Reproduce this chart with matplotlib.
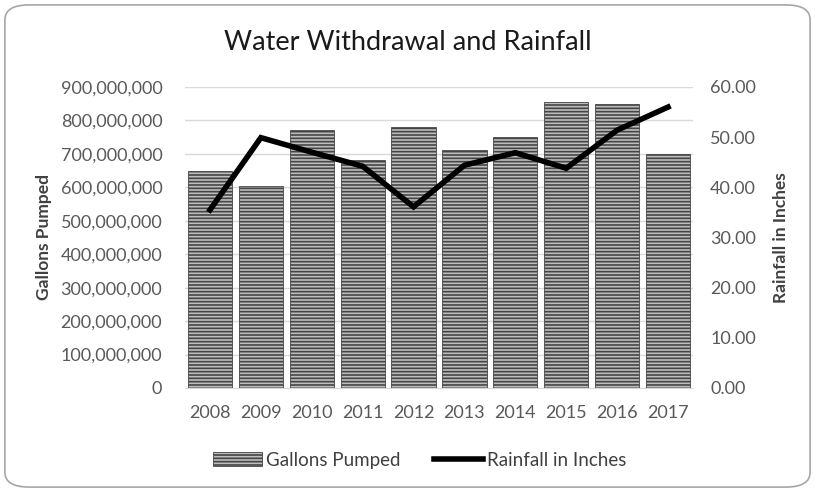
import numpy as np
import matplotlib.pyplot as plt
from matplotlib.patches import FancyBboxPatch
from matplotlib.ticker import FuncFormatter

years = ["2008", "2009", "2010", "2011", "2012", "2013", "2014", "2015", "2016", "2017"]
gallons = [650e6, 605e6, 770e6, 682e6, 780e6, 712e6, 750e6, 855e6, 850e6, 700e6]
rainfall = [35.5, 49.9, 47.0, 44.2, 36.1, 44.4, 46.9, 43.8, 51.4, 56.0]

plt.rcParams['font.family'] = ['Lato', 'DejaVu Sans']
plt.rcParams['hatch.linewidth'] = 1.2
plt.rcParams['hatch.color'] = '#4a4a4a'

fig = plt.figure(figsize=(8.15, 4.92), dpi=100)

# rounded grey frame around the chart
frame = FancyBboxPatch((0.006, 0.01), 0.988, 0.98,
                       boxstyle="round,pad=0,rounding_size=0.03",
                       transform=fig.transFigure, facecolor='white',
                       edgecolor='#a6a6a6', linewidth=1.2, zorder=-10)
fig.patches.append(frame)

ax = fig.add_axes([0.2264, 0.2114, 0.6245, 0.6118])
ax.set_facecolor('none')
x = np.arange(len(years))

bars = ax.bar(x, gallons, width=0.87, facecolor='#bdbdbd', edgecolor='#454545',
              hatch='-----', linewidth=0.6, label='Gallons Pumped', zorder=2)

ax.set_xlim(-0.5, len(years) - 0.5)
ax.set_ylim(0, 900e6)
ax.set_yticks(np.arange(0, 900e6 + 1, 100e6))
ax.yaxis.set_major_formatter(FuncFormatter(lambda v, p: f"{v:,.0f}"))
ax.set_xticks(x)
ax.set_xticklabels(years)
ax.grid(axis='y', color='#d9d9d9', linewidth=1, zorder=0)
ax.set_axisbelow(True)
for s in ax.spines.values():
    s.set_visible(False)
ax.spines['bottom'].set_visible(True)
ax.spines['bottom'].set_color('#d9d9d9')
ax.tick_params(axis='y', length=0, labelsize=13, colors='#595959', pad=16)
ax.tick_params(axis='x', length=0, labelsize=13, colors='#595959', pad=12)
ax.set_ylabel('Gallons Pumped', fontsize=12.5, fontweight='bold', color='#404040', labelpad=6)

ax2 = ax.twinx()
line, = ax2.plot(x, rainfall, color='black', linewidth=4, solid_joinstyle='miter',
                 label='Rainfall in Inches', zorder=3)
ax2.set_ylim(0, 60)
ax2.set_yticks(np.arange(0, 61, 10))
ax2.yaxis.set_major_formatter(FuncFormatter(lambda v, p: f"{v:.2f}"))
for s in ax2.spines.values():
    s.set_visible(False)
ax2.tick_params(length=0, labelsize=13, colors='#595959', pad=12)
ax2.set_ylabel('Rainfall in Inches', fontsize=12.5, fontweight='bold', color='#404040',
               rotation=90, labelpad=12)

fig.suptitle('Water Withdrawal and Rainfall', x=0.5, y=0.94, fontsize=19.5, color='#1a1a1a')

fig.legend([bars, line], ['Gallons Pumped', 'Rainfall in Inches'], loc='center',
           bbox_to_anchor=(0.515, 0.065), ncol=2, frameon=False, fontsize=13.5,
           labelcolor='#404040', handlelength=2.6, columnspacing=1.8, handletextpad=0.2)

fig.savefig('out.png', dpi=100)
